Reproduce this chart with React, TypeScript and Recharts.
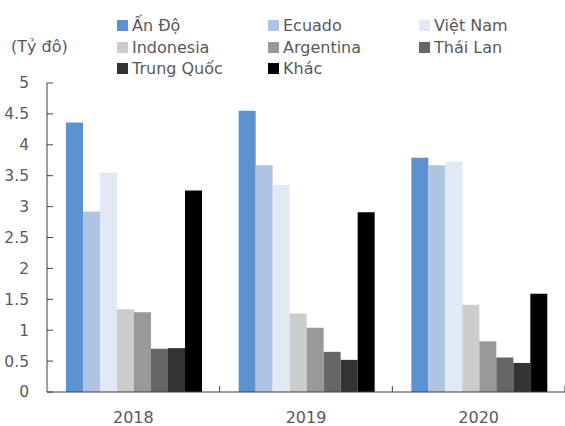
import React from 'react';
import { BarChart, Bar, XAxis, YAxis, Legend } from 'recharts';

// --- DATA ---
const years = ['2018', '2019', '2020'];
const anDo = [4.36, 4.55, 3.79];
const ecuado = [2.92, 3.67, 3.67];
const vietNam = [3.55, 3.35, 3.73];
const indonesia = [1.34, 1.27, 1.41];
const argentina = [1.29, 1.04, 0.82];
const thaiLan = [0.7, 0.65, 0.56];
const trungQuoc = [0.71, 0.52, 0.47];
const khac = [3.26, 2.91, 1.59];
const yTicks = [0, 0.5, 1, 1.5, 2, 2.5, 3, 3.5, 4, 4.5, 5];

const series = [
  { key: 'anDo', name: 'Ấn Độ', color: '#5b93d1', values: anDo },
  { key: 'ecuado', name: 'Ecuado', color: '#afc3e5', values: ecuado },
  { key: 'vietNam', name: 'Việt Nam', color: '#e1e8f6', values: vietNam },
  { key: 'indonesia', name: 'Indonesia', color: '#cccccc', values: indonesia },
  { key: 'argentina', name: 'Argentina', color: '#999999', values: argentina },
  { key: 'thaiLan', name: 'Thái Lan', color: '#666666', values: thaiLan },
  { key: 'trungQuoc', name: 'Trung Quốc', color: '#333333', values: trungQuoc },
  { key: 'khac', name: 'Khác', color: '#000000', values: khac },
];

const data = years.map((year, i) => {
  const row: Record<string, string | number> = { year };
  series.forEach(s => { row[s.key] = s.values[i]; });
  return row;
});

const W = 565;
const H = 426;
const LEFT = 47;
const RIGHT = 0;
const BAND = (W - LEFT - RIGHT) / years.length;
const FONT = '"DejaVu Sans", Verdana, sans-serif';
const TEXT = '#595959';
const AXIS = '#404040';

// ticks point inward, like the original Excel chart
const YTick = (props: any) => {
  const { x, y, payload } = props;
  return (
    <g>
      <line x1={x} x2={x + 6} y1={y} y2={y} stroke={AXIS} strokeWidth={1} />
      <text x={x - 18} y={y} dy="0.35em" textAnchor="end" fontSize={15.5} fontFamily={FONT} fill={TEXT}>
        {payload.value}
      </text>
    </g>
  );
};

// label at category centre, tick mark at category boundary
const XTick = (props: any) => {
  const { x, y, payload } = props;
  const bx = x + BAND / 2;
  return (
    <g>
      <line x1={bx} x2={bx} y1={y - 6} y2={y} stroke={AXIS} strokeWidth={1} />
      <text x={x} y={y + 25} dy="0.35em" textAnchor="middle" fontSize={16} fontFamily={FONT} fill={TEXT}>
        {payload.value}
      </text>
    </g>
  );
};

// zero-height box so the legend does not push the plot down
const LegendBox = () => (
  <div style={{ position: 'relative', width: W, height: 0, fontFamily: FONT, color: TEXT }}>
    <div style={{ position: 'absolute', left: 11, top: 22, fontSize: 16, whiteSpace: 'nowrap' }}>(Tỷ đô)</div>
    <div
      style={{
        position: 'absolute',
        left: 117,
        top: 0,
        display: 'grid',
        gridTemplateColumns: '151px 151px 151px',
        gridAutoRows: '21.5px',
      }}
    >
      {series.map(s => (
        <div key={s.key} style={{ display: 'flex', alignItems: 'center', fontSize: 16, whiteSpace: 'nowrap' }}>
          <span style={{ width: 11, height: 11, background: s.color, marginRight: 4, display: 'inline-block' }} />
          {s.name}
        </div>
      ))}
    </div>
  </div>
);

export default function App() {
  return (
    <div style={{ position: 'absolute', left: 0, top: 0, background: '#fff' }}>
      <BarChart
        width={W}
        height={H}
        data={data}
        margin={{ top: 83, right: RIGHT, left: 0, bottom: 4 }}
        barCategoryGap="11%"
        barGap={0}
      >
        <YAxis
          width={LEFT}
          domain={[0, 5]}
          ticks={yTicks}
          interval={0}
          tickLine={false}
          tickSize={0}
          tickMargin={0}
          axisLine={{ stroke: AXIS }}
          tick={<YTick />}
        />
        <XAxis
          dataKey="year"
          height={30}
          tickLine={false}
          tickSize={0}
          tickMargin={0}
          axisLine={{ stroke: AXIS }}
          tick={<XTick />}
        />
        <Legend
          verticalAlign="top"
          wrapperStyle={{ position: 'absolute', top: 15, left: 0, width: W, height: 0 }}
          content={<LegendBox />}
        />
        {series.map(s => (
          <Bar key={s.key} dataKey={s.key} name={s.name} fill={s.color} isAnimationActive={false} />
        ))}
      </BarChart>
    </div>
  );
}
